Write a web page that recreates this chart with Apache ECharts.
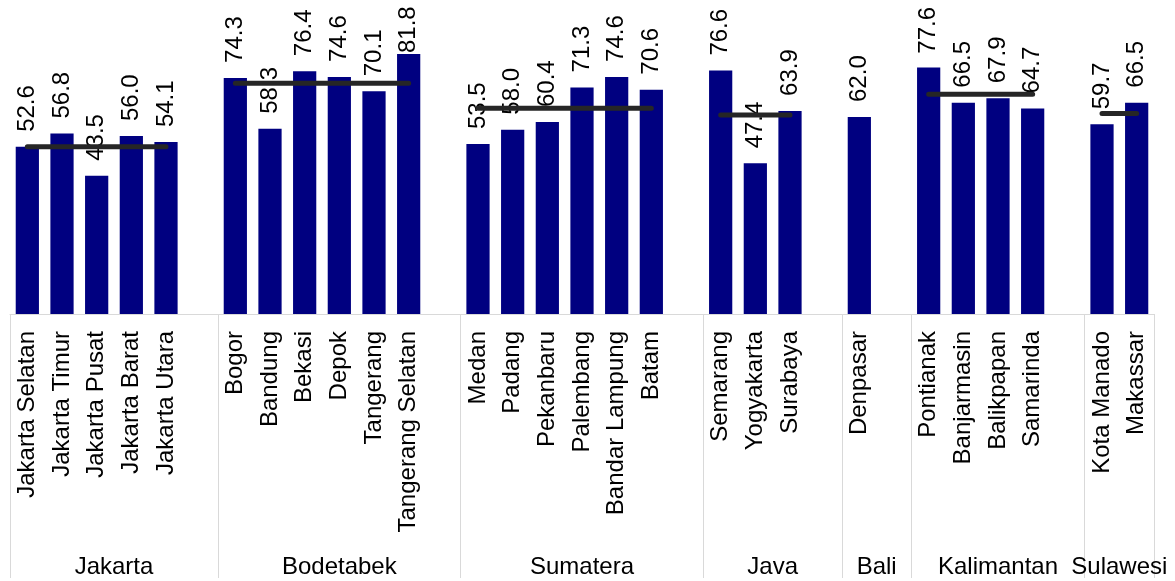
<!DOCTYPE html>
<html>
<head>
<meta charset="utf-8">
<script src="https://cdn.jsdelivr.net/npm/echarts@6/dist/echarts.min.js"></script>
<style>
  html, body { margin: 0; padding: 0; background: #fff; }
  #chart { width: 1175px; height: 581px; }
</style>
</head>
<body>
<div id="chart"></div>
<script>
const groups = ['Jakarta', 'Bodetabek', 'Sumatera', 'Java', 'Bali', 'Kalimantan', 'Sulawesi'];
const cities = [
  ['Jakarta Selatan', 'Jakarta Timur', 'Jakarta Pusat', 'Jakarta Barat', 'Jakarta Utara'],
  ['Bogor', 'Bandung', 'Bekasi', 'Depok', 'Tangerang', 'Tangerang Selatan'],
  ['Medan', 'Padang', 'Pekanbaru', 'Palembang', 'Bandar Lampung', 'Batam'],
  ['Semarang', 'Yogyakarta', 'Surabaya'],
  ['Denpasar'],
  ['Pontianak', 'Banjarmasin', 'Balikpapan', 'Samarinda'],
  ['Kota Manado', 'Makassar']
];
const values = [
  [52.6, 56.8, 43.5, 56.0, 54.1],
  [74.3, 58.3, 76.4, 74.6, 70.1, 81.8],
  [53.5, 58.0, 60.4, 71.3, 74.6, 70.6],
  [76.6, 47.4, 63.9],
  [62.0],
  [77.6, 66.5, 67.9, 64.7],
  [59.7, 66.5]
];

// Build the flat category list: each group followed by one empty slot (except the last)
const categories = [];
const barData = [];
const avgData = [];
const boundaries = [];
const groupCenters = [];
groups.forEach((g, gi) => {
  const start = categories.length;
  boundaries.push(start);
  const vals = values[gi];
  const mean = vals.reduce((a, b) => a + b, 0) / vals.length;
  cities[gi].forEach((c, ci) => {
    categories.push(c);
    barData.push(vals[ci]);
    avgData.push(mean);
  });
  if (gi < groups.length - 1) {
    categories.push('');
    barData.push(null);
    avgData.push(null);
  }
  groupCenters.push({ name: g, center: (start + categories.length) / 2 });
});

const FONT = 'Liberation Sans, Arial, sans-serif';
const FS = 24;
const LABEL_GAP = 15;
const TOP_LIMIT = 7;
const chart = echarts.init(document.getElementById('chart'));
chart.setOption({
  animation: false,
  grid: { left: 10, right: 21, top: 28, bottom: 267, containLabel: false },
  xAxis: [
    {
      type: 'category',
      data: categories,
      boundaryGap: true,
      axisLine: { show: true, lineStyle: { color: '#d9d9d9', width: 1 } },
      axisTick: {
        show: true,
        interval: (i) => boundaries.includes(i),
        length: 264,
        lineStyle: { color: '#d9d9d9', width: 1 }
      },
      axisLabel: {
        interval: 0,
        rotate: 90,
        margin: 17,
        fontSize: FS,
        fontFamily: FONT,
        color: '#000'
      },
      splitLine: { show: false }
    },
    {
      type: 'value',
      min: 0,
      max: categories.length,
      interval: 0.5,
      position: 'bottom',
      axisLine: { show: false },
      axisTick: { show: false },
      splitLine: { show: false },
      axisLabel: {
        margin: 241,
        fontSize: FS,
        fontFamily: FONT,
        color: '#000',
        formatter: (v) => {
          const g = groupCenters.find(gc => Math.abs(gc.center - v) < 1e-6);
          return g ? g.name : '';
        }
      }
    }
  ],
  yAxis: { type: 'value', min: 0, max: 90, show: false },
  series: [
    {
      type: 'bar',
      data: barData,
      xAxisIndex: 0,
      barCategoryGap: '33%',
      z: 2,
      itemStyle: { color: '#000080' },
      label: {
        show: true,
        position: 'top',
        rotate: 90,
        align: 'left',
        verticalAlign: 'middle',
        distance: LABEL_GAP,
        fontSize: FS,
        fontFamily: FONT,
        color: '#000',
        formatter: (p) => p.value == null ? '' : Number(p.value).toFixed(1)
      }
    },
    {
      type: 'line',
      data: avgData,
      xAxisIndex: 0,
      z: 5,
      showSymbol: false,
      symbol: 'none',
      connectNulls: false,
      lineStyle: { color: '#262626', width: 5, cap: 'round' }
    }
  ]
});

// Keep value labels inside the chart: shrink the gap for bars too tall for it.
const ctx = document.createElement('canvas').getContext('2d');
ctx.font = FS + 'px ' + FONT;
const adjusted = barData.map((v, i) => {
  if (v == null) return null;
  const y = chart.convertToPixel({ xAxisIndex: 0, yAxisIndex: 0 }, [i, v])[1];
  const len = ctx.measureText(v.toFixed(1)).width;
  const avail = y - TOP_LIMIT - len;
  return { value: v, label: { distance: Math.max(1, Math.min(LABEL_GAP, avail)) } };
});
chart.setOption({ series: [{ data: adjusted }] });
</script>
</body>
</html>
